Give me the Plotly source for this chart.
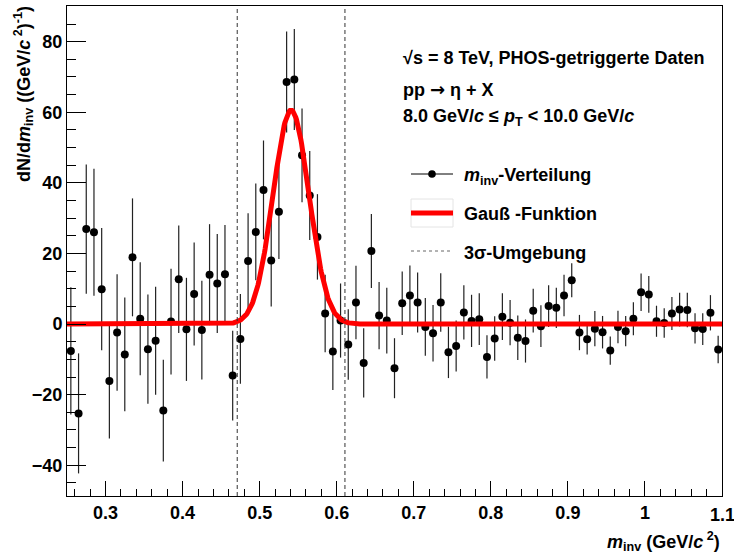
import numpy as np
import plotly.graph_objects as go

# Invariant-mass spectrum (bin centres, counts per GeV/c^2, statistical errors)
m_inv = [round(0.255 + 0.01 * i, 3) for i in range(85)]
dndm = [
    -7.6, -25.3, 26.9, 26.0, 9.9, -16.1, -2.4, -8.6, 18.9, 1.5,
    -7.1, -4.7, -24.5, 0.7, 12.7, -1.5, 8.5, -1.7, 14.0, 11.5,
    14.1, -14.6, -4.2, 17.9, 26.1, 38.0, 18.0, 31.8, 68.6, 69.3,
    47.8, 36.4, 24.7, 3.0, -7.8, 1.0, -5.8, 6.1, -11.0, 20.7,
    2.4, 1.0, -12.5, 5.9, 8.1, 6.1, -0.8, -2.6, 6.1, -8.0,
    -6.2, 3.3, 0.9, 1.4, -9.3, -4.1, 2.1, 0.4, -3.9, -4.8,
    3.8, -0.6, 5.1, 4.6, 8.1, 12.4, -2.4, -4.3, -1.3, -2.3,
    -7.5, -0.8, -2.0, 1.5, 9.0, 8.4, 0.8, 0.3, 3.0, 4.1,
    4.0, -1.2, -1.4, 3.2, -7.2,
]
dndm_err = [
    18.0, 17.0, 18.3, 18.0, 17.3, 16.3, 16.5, 16.1, 16.7, 16.0,
    15.5, 15.3, 14.4, 15.0, 15.2, 14.6, 14.6, 14.0, 14.3, 14.0,
    14.0, 12.7, 12.7, 13.5, 13.7, 14.0, 13.0, 13.4, 14.3, 14.3,
    13.3, 12.6, 12.1, 11.0, 10.9, 10.5, 10.0, 10.4, 9.8, 10.5,
    9.5, 9.3, 8.5, 9.0, 8.5, 8.5, 8.2, 8.0, 8.3, 7.3,
    7.2, 7.7, 7.4, 7.3, 6.1, 6.3, 6.6, 6.4, 6.3, 6.1,
    6.2, 5.9, 5.9, 5.7, 5.9, 4.8, 5.0, 4.3, 5.0, 4.6,
    4.0, 4.6, 4.3, 4.7, 5.3, 5.2, 4.4, 4.2, 4.7, 4.8,
    4.9, 4.3, 4.5, 5.0, 3.9,
]

# Gaussian fit parameters and the 3-sigma window
gauss_amp = 60.6
gauss_mu = 0.5408
gauss_sigma = 0.0233
window = [gauss_mu - 3 * gauss_sigma, gauss_mu + 3 * gauss_sigma]

x_range = [0.25, 1.1]
y_range = [-48.7, 90.1]
x_ticks = [0.3, 0.4, 0.5, 0.6, 0.7, 0.8, 0.9, 1.0]
x_ticktext = ["0.3", "0.4", "0.5", "0.6", "0.7", "0.8", "0.9", "1"]
x_edge_tick = (1.1, "1.1")
y_ticks = [-40, -20, 0, 20, 40, 60, 80]
y_ticktext = ["\u221240", "\u221220", "0", "20", "40", "60", "80"]

W, H = 734, 557
ML, MR, MT, MB = 67, 12, 6, 61
PW, PH = W - ML - MR, H - MT - MB


def px(xp):
    return (xp - ML) / PW


def py(yp):
    return (H - MB - yp) / PH


FONT = "Liberation Sans"
TXT = dict(family=FONT, size=18, color="black", weight="bold")

fig = go.Figure()

fig.add_trace(go.Scatter(
    x=m_inv, y=dndm,
    mode="markers",
    marker=dict(color="black", size=8),
    error_y=dict(type="data", array=dndm_err, visible=True,
                 color="#222222", thickness=1.2, width=0),
    showlegend=False,
))

xf = np.linspace(x_range[0], x_range[1], 900)
yf = gauss_amp * np.exp(-0.5 * ((xf - gauss_mu) / gauss_sigma) ** 2)
fig.add_trace(go.Scatter(
    x=xf, y=yf, mode="lines",
    line=dict(color="#ff0000", width=5),
    showlegend=False,
))

shapes = []
for xv in window:
    shapes.append(dict(type="line", xref="x", yref="paper", x0=xv, x1=xv,
                       y0=0, y1=1,
                       line=dict(color="#333333", width=1, dash="4px,3px")))

annotations = []

# label of the last major tick, which sits on the right frame edge
annotations.append(dict(text=x_edge_tick[1], xref="x", yref="paper",
                        x=x_edge_tick[0], y=py(514.5), xanchor="center",
                        yanchor="middle", showarrow=False, font=TXT))

# header text
arrow = "<span style=\"font-family:'DejaVu Sans'\">\u2192</span>"
head = [
    ("\u221as = 8 TeV, PHOS-getriggerte Daten", 58),
    ("pp " + arrow + " \u03b7 + X", 89),
    ("8.0 GeV/<i>c</i> \u2264 <i>p</i><sub>T</sub> &lt; 10.0 GeV/<i>c</i>", 118),
]
for txt, yp in head:
    annotations.append(dict(text=txt, xref="paper", yref="paper",
                            x=px(401), y=py(yp), xanchor="left", yanchor="middle",
                            showarrow=False, font=TXT))

# legend
lx0, lx1, ltx = 411, 453, 462
ly = [174, 213, 251]
shapes.append(dict(type="line", xref="paper", yref="paper",
                   x0=px(lx0), x1=px(lx1), y0=py(ly[0]), y1=py(ly[0]),
                   line=dict(color="black", width=1)))
shapes.append(dict(type="circle", xref="paper", yref="paper",
                   x0=px(432 - 3.8), x1=px(432 + 3.8),
                   y0=py(ly[0] + 3.8), y1=py(ly[0] - 3.8),
                   fillcolor="black", line=dict(width=0)))
shapes.append(dict(type="rect", xref="paper", yref="paper",
                   x0=px(lx0), x1=px(lx1), y0=py(227), y1=py(199),
                   fillcolor="white", line=dict(color="#e4e4e4", width=1)))
shapes.append(dict(type="line", xref="paper", yref="paper",
                   x0=px(lx0), x1=px(lx1), y0=py(ly[1]), y1=py(ly[1]),
                   line=dict(color="#ff0000", width=5)))
shapes.append(dict(type="line", xref="paper", yref="paper",
                   x0=px(lx0), x1=px(lx1), y0=py(ly[2]), y1=py(ly[2]),
                   line=dict(color="#666666", width=1, dash="3px,3px")))

legend_text = [
    ("<i>m</i><sub>inv</sub>-Verteilung", 176),
    ("Gau\u00df -Funktion", 214),
    ("3\u03c3-Umgebung", 253),
]
for txt, yp in legend_text:
    annotations.append(dict(text=txt, xref="paper", yref="paper",
                            x=px(ltx), y=py(yp), xanchor="left", yanchor="middle",
                            showarrow=False, font=TXT))

# axis titles
annotations.append(dict(
    text="dN/d<i>m</i><sub>inv</sub> ((GeV/<i>c</i><sup> 2</sup>)<sup>-1</sup>)",
    xref="paper", yref="paper", x=px(24), y=py(4),
    xanchor="center", yanchor="top", textangle=-90,
    showarrow=False, font=TXT))
annotations.append(dict(
    text="<i>m</i><sub>inv</sub> (GeV/<i>c</i><sup> 2</sup>)",
    xref="paper", yref="paper", x=px(722), y=py(541),
    xanchor="right", yanchor="middle",
    showarrow=False, font=TXT))

fig.update_layout(
    width=W, height=H,
    margin=dict(l=ML, r=MR, t=MT, b=MB, pad=0),
    paper_bgcolor="white", plot_bgcolor="white",
    shapes=shapes, annotations=annotations,
    showlegend=False,
    xaxis=dict(range=x_range, tickvals=x_ticks, ticktext=x_ticktext,
               ticks="inside", ticklen=15, tickwidth=1, tickcolor="black",
               minor=dict(ticks="inside", ticklen=7, dtick=0.02, tick0=0.3,
                          tickcolor="black", tickwidth=1),
               showgrid=False, zeroline=False, automargin=False,
               showline=True, mirror=True, linecolor="black", linewidth=1,
               tickfont=TXT),
    yaxis=dict(range=y_range, tickvals=y_ticks, ticktext=y_ticktext,
               ticks="inside", ticklen=19, tickwidth=1, tickcolor="black",
               minor=dict(ticks="inside", ticklen=9, dtick=5, tick0=0,
                          tickcolor="black", tickwidth=1),
               showgrid=False, zeroline=False, automargin=False,
               showline=True, mirror=True, linecolor="black", linewidth=1,
               tickfont=TXT),
)

fig.write_html("out.html")
